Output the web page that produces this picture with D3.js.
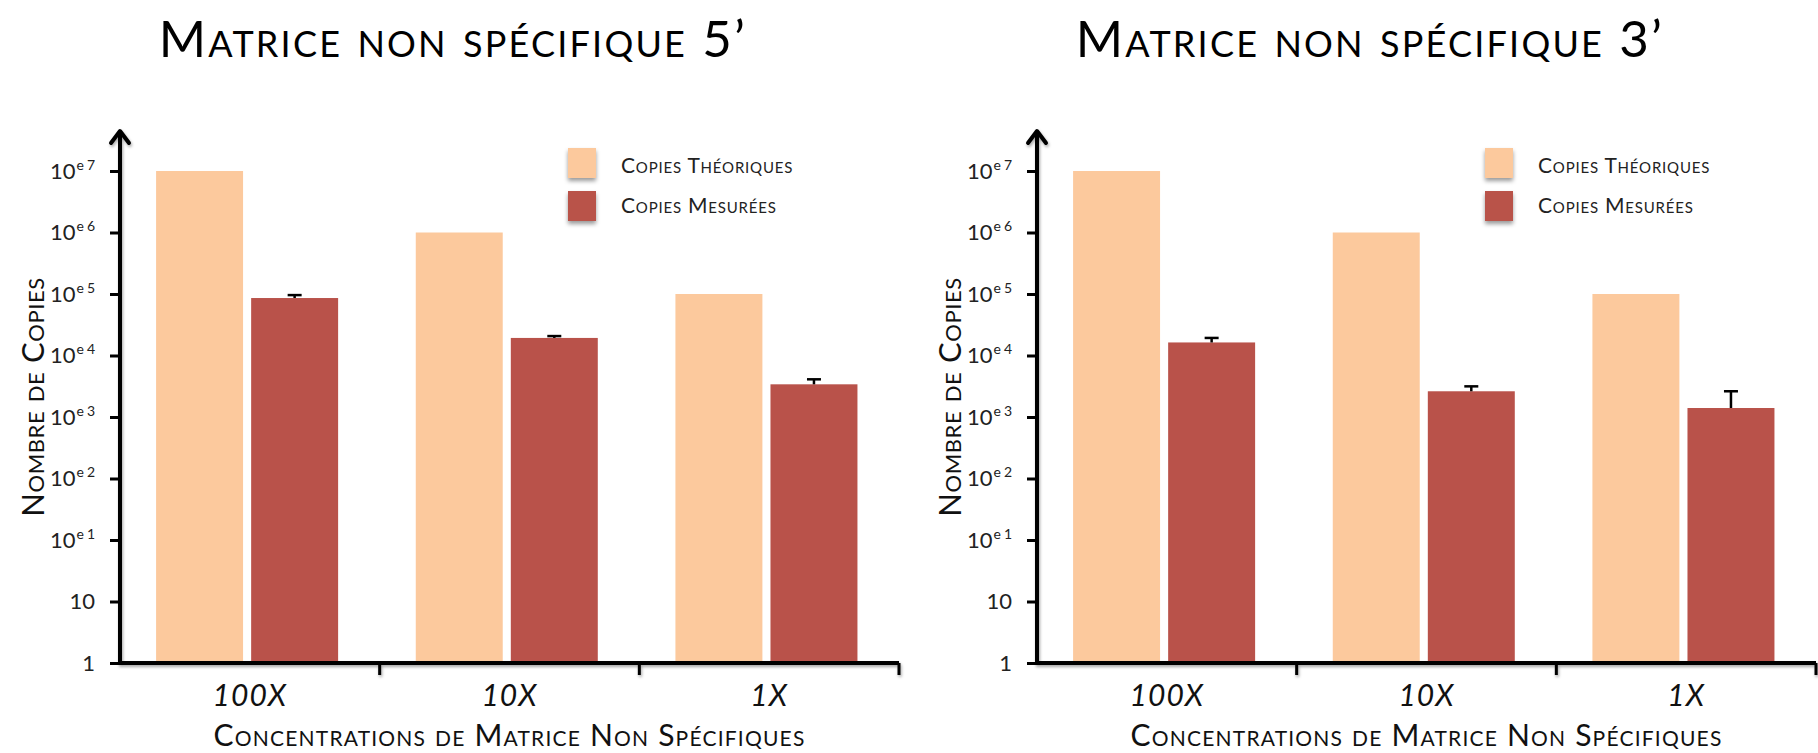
<!DOCTYPE html>
<html>
<head>
<meta charset="utf-8">
<script src="https://cdn.jsdelivr.net/npm/d3@7"></script>
<style>
  html, body { margin: 0; padding: 0; background: #fff; }
  svg { display: block; }
  text { font-family: Lato, "Open Sans", sans-serif; }
</style>
</head>
<body>
<svg id="chart" width="1818" height="753"></svg>
<script>
// ---------- data ----------
const categories = ["100X", "10X", "1X"];
const seriesNames = ["Copies Théoriques", "Copies Mesurées"];
const titles = ["Matrice non spécifique 5’", "Matrice non spécifique 3’"];

const theo5 = [1e7, 1e6, 1e5];
const meas5 = [8.6e4, 1.93e4, 3.4e3];
const errTop5 = [9.6e4, 2.07e4, 4.1e3];

const theo3 = [1e7, 1e6, 1e5];
const meas3 = [1.63e4, 2.62e3, 1.40e3];
const errTop3 = [1.93e4, 3.15e3, 2.62e3];

const tickValues = [0.1, 1, 10, 100, 1e3, 1e4, 1e5, 1e6, 1e7];
const tickLabels = ["1", "10", "10e1", "10e2", "10e3", "10e4", "10e5", "10e6", "10e7"];

const xTitle = "Concentrations de Matrice Non Spécifiques";
const yTitle = "Nombre de Copies";
const colors = ["#fcc99d", "#b9524a"];

// ---------- drawing ----------
const svg = d3.select("#chart");
const defs = svg.append("defs");
const sh = defs.append("filter").attr("id", "shadow").attr("x", "-20%").attr("y", "-20%").attr("width", "140%").attr("height", "140%");
sh.append("feDropShadow").attr("dx", 1).attr("dy", 2).attr("stdDeviation", 1.5).attr("flood-color", "#000").attr("flood-opacity", 0.35);
const sh2 = defs.append("filter").attr("id", "shadow2").attr("x", "-30%").attr("y", "-30%").attr("width", "160%").attr("height", "160%");
sh2.append("feDropShadow").attr("dx", 0).attr("dy", 3).attr("stdDeviation", 2).attr("flood-color", "#000").attr("flood-opacity", 0.4);

const panels = [
  { off: 0, title: titles[0], theo: theo5, meas: meas5, err: errTop5 },
  { off: 917, title: titles[1], theo: theo3, meas: meas3, err: errTop3 }
];

const x0 = 120, x1 = 899, yBase = 663, yTop = 171;

panels.forEach(p => {
  const g = svg.append("g").attr("transform", `translate(${p.off},0)`);

  const y = d3.scaleLog().domain([0.1, 1e7]).range([yBase, yTop]);
  const x = d3.scaleBand().domain(categories).range([x0, x1]).padding(0);
  const bw = x.bandwidth();
  const xs = d3.scaleBand().domain(seriesNames).range([bw * 0.139, bw * 0.84]).paddingInner(0.085);

  const rows = categories.map((c, i) => ({ c, vals: [p.theo[i], p.meas[i]], err: p.err[i] }));

  // bars
  const grp = g.selectAll("g.grp").data(rows).join("g").attr("class", "grp")
    .attr("transform", d => `translate(${x(d.c)},0)`);
  grp.selectAll("rect").data(d => d.vals.map((v, k) => ({ k, v })))
    .join("rect")
    .attr("x", d => xs(seriesNames[d.k]))
    .attr("width", xs.bandwidth())
    .attr("y", d => y(d.v))
    .attr("height", d => yBase - y(d.v))
    .attr("fill", d => colors[d.k]);

  // error bars (upper)
  const eb = grp.append("g").attr("stroke", "#000").attr("stroke-width", 2.5);
  eb.append("line")
    .attr("x1", xs(seriesNames[1]) + xs.bandwidth() / 2)
    .attr("x2", xs(seriesNames[1]) + xs.bandwidth() / 2)
    .attr("y1", d => y(d.vals[1]))
    .attr("y2", d => y(d.err));
  eb.append("line")
    .attr("x1", xs(seriesNames[1]) + xs.bandwidth() / 2 - 7)
    .attr("x2", xs(seriesNames[1]) + xs.bandwidth() / 2 + 7)
    .attr("y1", d => y(d.err))
    .attr("y2", d => y(d.err));

  // y axis ticks and labels
  const yAxis = d3.axisLeft(y).tickValues(tickValues).tickSize(10).tickPadding(15).tickFormat(() => "");
  const ya = g.append("g").attr("transform", `translate(${x0},0)`).call(yAxis);
  ya.select(".domain").remove();
  ya.selectAll(".tick line").attr("stroke", "#000").attr("stroke-width", 3);
  ya.selectAll(".tick text").each(function (d, i) {
    const t = d3.select(this).attr("font-size", 22).attr("fill", "#222").attr("dy", "0.32em");
    const lab = tickLabels[i];
    const idx = lab.indexOf("e");
    if (idx < 0) {
      t.text(lab);
    } else {
      t.append("tspan").text(lab.slice(0, idx));
      t.append("tspan").attr("font-size", 14).attr("dy", -9).attr("dx", 1).text("e");
      t.append("tspan").attr("font-size", 14).attr("dx", 3).text(lab.slice(idx + 1));
    }
  });

  // axis lines with arrow
  const axes = g.append("g").attr("filter", "url(#shadow)").attr("fill", "none").attr("stroke", "#000");
  axes.append("line").attr("x1", x0).attr("x2", x0).attr("y1", yBase + 2).attr("y2", 131).attr("stroke-width", 4);
  axes.append("path").attr("d", `M${x0 - 9},${143} L${x0},${131} L${x0 + 9},${143}`)
    .attr("stroke-width", 4).attr("stroke-linecap", "round").attr("stroke-linejoin", "round");
  axes.append("line").attr("x1", x0 - 2).attr("x2", x1).attr("y1", yBase).attr("y2", yBase).attr("stroke-width", 4);
  categories.forEach(c => {
    const bx = x(c) + bw;
    axes.append("line").attr("x1", bx).attr("x2", bx).attr("y1", yBase).attr("y2", yBase + 12).attr("stroke-width", 3);
  });

  // x labels
  const xAxis = d3.axisBottom(x).tickSize(0).tickPadding(0);
  const xa = g.append("g").attr("transform", `translate(0,${yBase})`).call(xAxis);
  xa.select(".domain").remove();
  xa.selectAll(".tick text").attr("font-size", 30).attr("font-style", "italic").attr("fill", "#111")
    .attr("dy", 0).attr("y", 43).attr("letter-spacing", 1);

  // axis titles
  g.append("text").attr("x", (x0 + x1) / 2).attr("y", 746).attr("text-anchor", "middle")
    .attr("font-size", 30).attr("fill", "#111").attr("letter-spacing", 1.2)
    .style("font-variant", "small-caps").text(xTitle);
  g.append("text").attr("transform", `translate(44,397) rotate(-90)`).attr("text-anchor", "middle")
    .attr("font-size", 31).attr("fill", "#111").attr("letter-spacing", 0.6)
    .style("font-variant", "small-caps").text(yTitle);

  // title
  g.append("text").attr("x", 453).attr("y", 57).attr("text-anchor", "middle")
    .attr("font-size", 51).attr("fill", "#000").attr("letter-spacing", 2.2)
    .style("font-variant", "small-caps").text(p.title);

  // legend
  const lg = g.append("g");
  seriesNames.forEach((s, k) => {
    lg.append("rect").attr("x", 568).attr("y", 148 + k * 43).attr("width", 28).attr("height", 30)
      .attr("fill", colors[k]).attr("filter", "url(#shadow2)");
    lg.append("text").attr("x", 621).attr("y", 173 + k * 40).attr("font-size", 21).attr("fill", "#222")
      .attr("letter-spacing", 0.8).style("font-variant", "small-caps").text(s);
  });
});
</script>
</body>
</html>
